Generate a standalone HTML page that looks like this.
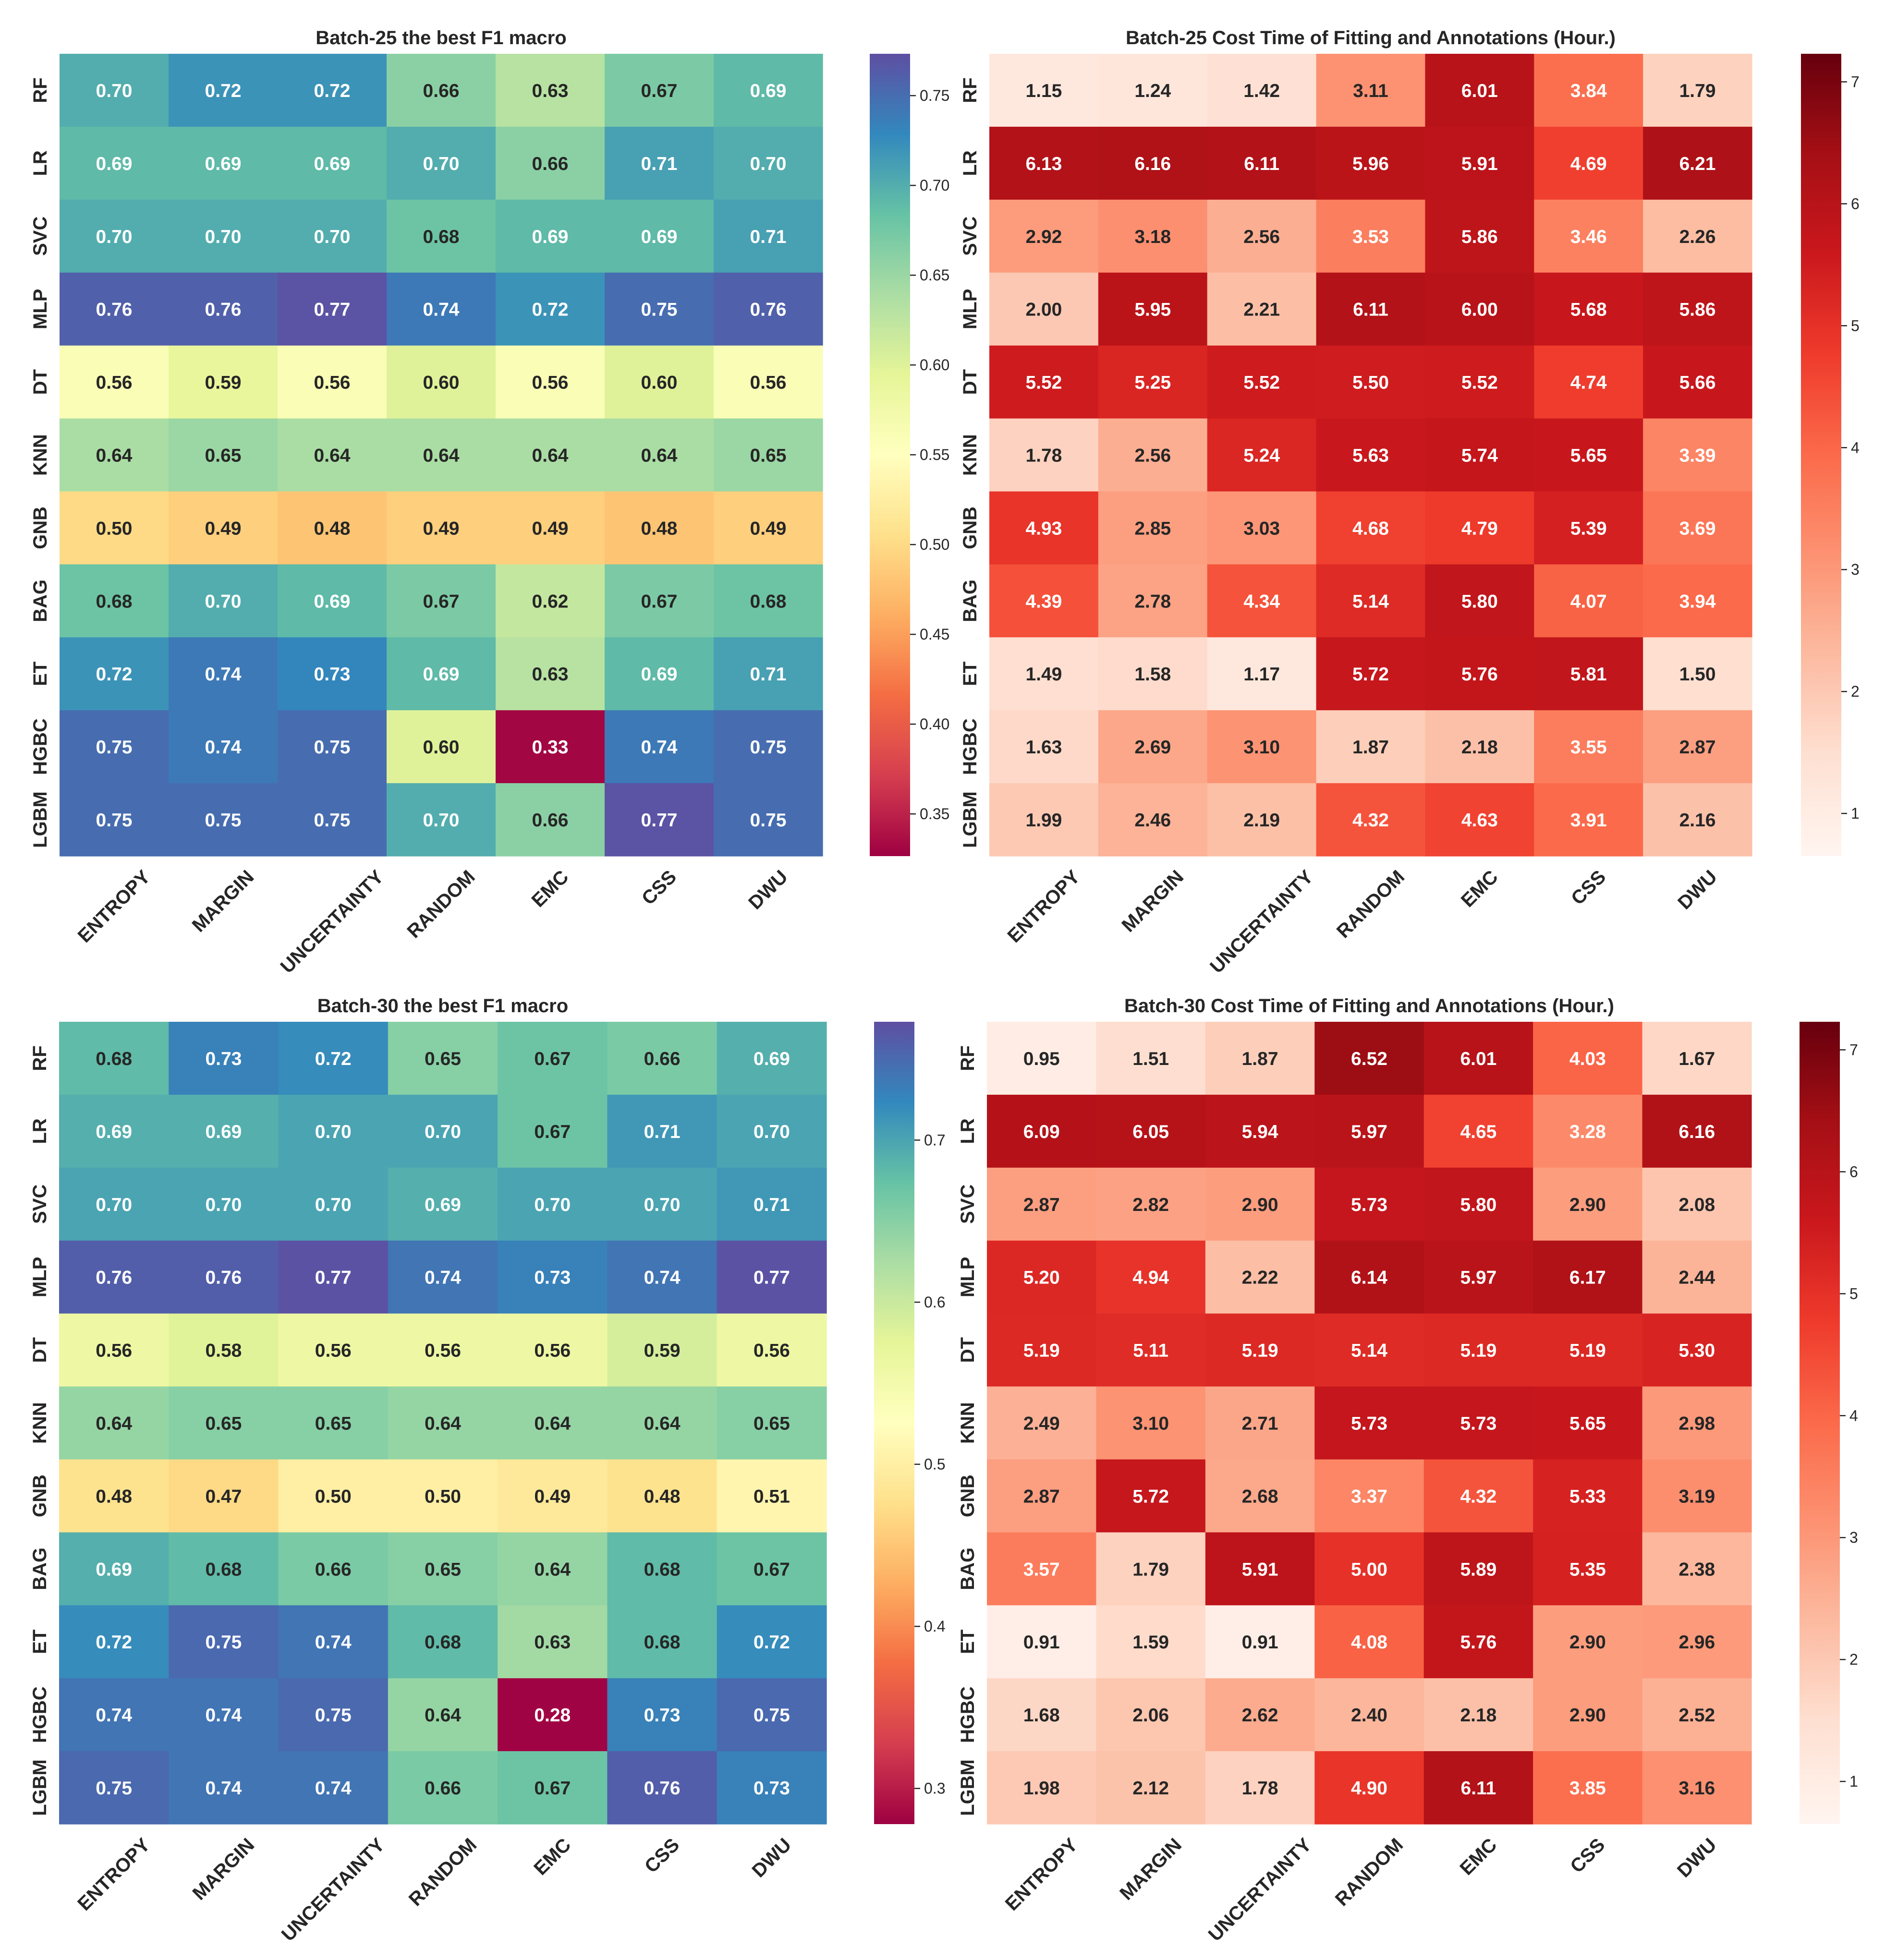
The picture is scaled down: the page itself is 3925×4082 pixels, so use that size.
<!DOCTYPE html>
<html><head><meta charset="utf-8">
<style>
html,body{margin:0;padding:0;background:#fff;}
svg{display:block;font-family:"Liberation Sans",Arial,sans-serif;}
</style></head>
<body>
<svg id="fig" width="3925" height="4082" viewBox="0 0 3925 4082" xmlns="http://www.w3.org/2000/svg"></svg>
<script>
const rowLabels = ["RF","LR","SVC","MLP","DT","KNN","GNB","BAG","ET","HGBC","LGBM"];
const colLabels = ["ENTROPY","MARGIN","UNCERTAINTY","RANDOM","EMC","CSS","DWU"];

const f1Batch25 = [
 [0.70,0.72,0.72,0.66,0.63,0.67,0.69],
 [0.69,0.69,0.69,0.70,0.66,0.71,0.70],
 [0.70,0.70,0.70,0.68,0.69,0.69,0.71],
 [0.76,0.76,0.77,0.74,0.72,0.75,0.76],
 [0.56,0.59,0.56,0.60,0.56,0.60,0.56],
 [0.64,0.65,0.64,0.64,0.64,0.64,0.65],
 [0.50,0.49,0.48,0.49,0.49,0.48,0.49],
 [0.68,0.70,0.69,0.67,0.62,0.67,0.68],
 [0.72,0.74,0.73,0.69,0.63,0.69,0.71],
 [0.75,0.74,0.75,0.60,0.33,0.74,0.75],
 [0.75,0.75,0.75,0.70,0.66,0.77,0.75]
];
const timeBatch25 = [
 [1.15,1.24,1.42,3.11,6.01,3.84,1.79],
 [6.13,6.16,6.11,5.96,5.91,4.69,6.21],
 [2.92,3.18,2.56,3.53,5.86,3.46,2.26],
 [2.00,5.95,2.21,6.11,6.00,5.68,5.86],
 [5.52,5.25,5.52,5.50,5.52,4.74,5.66],
 [1.78,2.56,5.24,5.63,5.74,5.65,3.39],
 [4.93,2.85,3.03,4.68,4.79,5.39,3.69],
 [4.39,2.78,4.34,5.14,5.80,4.07,3.94],
 [1.49,1.58,1.17,5.72,5.76,5.81,1.50],
 [1.63,2.69,3.10,1.87,2.18,3.55,2.87],
 [1.99,2.46,2.19,4.32,4.63,3.91,2.16]
];
const f1Batch30 = [
 [0.68,0.73,0.72,0.65,0.67,0.66,0.69],
 [0.69,0.69,0.70,0.70,0.67,0.71,0.70],
 [0.70,0.70,0.70,0.69,0.70,0.70,0.71],
 [0.76,0.76,0.77,0.74,0.73,0.74,0.77],
 [0.56,0.58,0.56,0.56,0.56,0.59,0.56],
 [0.64,0.65,0.65,0.64,0.64,0.64,0.65],
 [0.48,0.47,0.50,0.50,0.49,0.48,0.51],
 [0.69,0.68,0.66,0.65,0.64,0.68,0.67],
 [0.72,0.75,0.74,0.68,0.63,0.68,0.72],
 [0.74,0.74,0.75,0.64,0.28,0.73,0.75],
 [0.75,0.74,0.74,0.66,0.67,0.76,0.73]
];
const timeBatch30 = [
 [0.95,1.51,1.87,6.52,6.01,4.03,1.67],
 [6.09,6.05,5.94,5.97,4.65,3.28,6.16],
 [2.87,2.82,2.90,5.73,5.80,2.90,2.08],
 [5.20,4.94,2.22,6.14,5.97,6.17,2.44],
 [5.19,5.11,5.19,5.14,5.19,5.19,5.30],
 [2.49,3.10,2.71,5.73,5.73,5.65,2.98],
 [2.87,5.72,2.68,3.37,4.32,5.33,3.19],
 [3.57,1.79,5.91,5.00,5.89,5.35,2.38],
 [0.91,1.59,0.91,4.08,5.76,2.90,2.96],
 [1.68,2.06,2.62,2.40,2.18,2.90,2.52],
 [1.98,2.12,1.78,4.90,6.11,3.85,3.16]
];
const ticksF1a = [0.35,0.40,0.45,0.50,0.55,0.60,0.65,0.70,0.75];
const ticksF1b = [0.3,0.4,0.5,0.6,0.7];
const ticksTime = [1,2,3,4,5,6,7];

const SPECTRAL = ["#9e0142","#d53e4f","#f46d43","#fdae61","#fee08b","#ffffbf","#e6f598","#abdda4","#66c2a5","#3288bd","#5e4fa2"];
const REDS = ["#fff5f0","#fee0d2","#fcbba1","#fc9272","#fb6a4a","#ef3b2c","#cb181d","#a50f15","#67000d"];
function hex(h){return [parseInt(h.substr(1,2),16),parseInt(h.substr(3,2),16),parseInt(h.substr(5,2),16)];}
function cmap(stops,t){t=Math.max(0,Math.min(1,t));const n=stops.length-1;const p=t*n;const i=Math.min(n-1,Math.floor(p));const f=p-i;const a=hex(stops[i]),b=hex(stops[i+1]);return a.map((v,k)=>Math.round(v+(b[k]-v)*f));}
function rgbStr(c){return `rgb(${c[0]},${c[1]},${c[2]})`;}
function lum(c){const l=c.map(v=>{v/=255;return v<=0.03928?v/12.92:Math.pow((v+0.055)/1.055,2.4);});return 0.2126*l[0]+0.7152*l[1]+0.0722*l[2];}

const NS="http://www.w3.org/2000/svg";
const svg=document.getElementById('fig');
function el(tag,attrs,parent){const e=document.createElementNS(NS,tag);for(const k in attrs)e.setAttribute(k,attrs[k]);(parent||svg).appendChild(e);return e;}

let gradId=0;
function drawPanel(p){
  const g=el('g',{});
  
  
  const nR=rowLabels.length,nC=colLabels.length;
  const cw=(p.x1-p.x0)/nC, rh=(p.y1-p.y0)/nR;
  const xPos=j=>p.x0+j*cw, yPos=i=>p.y0+i*rh;
  const norm=v=>(v-p.vmin)/(p.vmax-p.vmin);
  const t=el('text',{x:(p.x0+p.x1)/2,y:p.y0-20,'text-anchor':'middle','font-size':40,'font-weight':'bold',fill:'#262626'},g);
  t.textContent=p.title;
  
  
  for(let i=0;i<nR;i++)for(let j=0;j<nC;j++){
    const v=p.data[i][j];const c=cmap(p.stops,norm(v));
    const r=el('rect',{x:xPos(j),y:yPos(i),width:cw+0.6,height:rh+0.6,fill:rgbStr(c)},g);
    
    
    const tx=el('text',{x:xPos(j)+cw/2,y:yPos(i)+rh/2+14,'text-anchor':'middle','font-size':39,'font-weight':'bold',fill:lum(c)<0.408?'#ffffff':'#262626'},g);
    tx.textContent=v.toFixed(2);
    
    
  }
  for(let i=0;i<nR;i++){
    const cy=yPos(i)+rh/2, cx=p.x0-40;
    const tx=el('text',{x:cx,y:cy,'text-anchor':'middle','dominant-baseline':'central','font-size':40,'font-weight':'bold',fill:'#262626',transform:`rotate(-90 ${cx} ${cy})`},g);
    tx.textContent=rowLabels[i];
    
    
  }
  for(let j=0;j<nC;j++){
    const cx=xPos(j)+cw/2;
    const tx=el('text',{x:0,y:0,'text-anchor':'middle','dominant-baseline':'central','font-size':40,'font-weight':'bold',fill:'#262626'},g);
    tx.textContent=colLabels[j];
    const L=tx.getComputedTextLength();
    const half=(L+30)*0.7071/2;
    const cy=p.y1+26+half;
    tx.setAttribute('transform',`translate(${cx} ${cy}) rotate(-45)`);
    
    
  }
  const id='grad'+(gradId++);
  const defs=el('defs',{},g);
  const lg=el('linearGradient',{id:id,x1:0,y1:1,x2:0,y2:0},defs);
  for(let k=0;k<=40;k++){const c=cmap(p.stops,k/40);el('stop',{offset:(k/40),'stop-color':rgbStr(c)},lg);}
  const cb=el('rect',{x:p.cbx,y:p.y0,width:84,height:p.y1-p.y0,fill:`url(#${id})`},g);
  
  
  const cbY=v=>p.y1-norm(v)*(p.y1-p.y0);
  p.ticks.forEach(v=>{
    const y=cbY(v);
    el('line',{x1:p.cbx+84,x2:p.cbx+96,y1:y,y2:y,stroke:'#262626','stroke-width':2.5},g);
    const tx=el('text',{x:p.cbx+104,y:y+11,'font-size':32,fill:'#262626'},g);
    tx.textContent=p.fmt(v);
    
    
  });
}

drawPanel({name:'heatmap-batch25-f1',title:'Batch-25 the best F1 macro',data:f1Batch25,stops:SPECTRAL,vmin:0.3265,vmax:0.7733,
  x0:124,x1:1713,y0:112,y1:1783,cbx:1811,ticks:ticksF1a,fmt:v=>v.toFixed(2)});
drawPanel({name:'heatmap-batch25-time',title:'Batch-25 Cost Time of Fitting and Annotations (Hour.)',data:timeBatch25,stops:REDS,vmin:0.65,vmax:7.23,
  x0:2060,x1:3648,y0:112,y1:1783,cbx:3750,ticks:ticksTime,fmt:v=>String(v)});
drawPanel({name:'heatmap-batch30-f1',title:'Batch-30 the best F1 macro',data:f1Batch30,stops:SPECTRAL,vmin:0.278,vmax:0.773,
  x0:123,x1:1721,y0:2128,y1:3799,cbx:1820,ticks:ticksF1b,fmt:v=>v.toFixed(1)});
drawPanel({name:'heatmap-batch30-time',title:'Batch-30 Cost Time of Fitting and Annotations (Hour.)',data:timeBatch30,stops:REDS,vmin:0.65,vmax:7.23,
  x0:2055,x1:3647,y0:2128,y1:3799,cbx:3747,ticks:ticksTime,fmt:v=>String(v)});
</script>
</body></html>
